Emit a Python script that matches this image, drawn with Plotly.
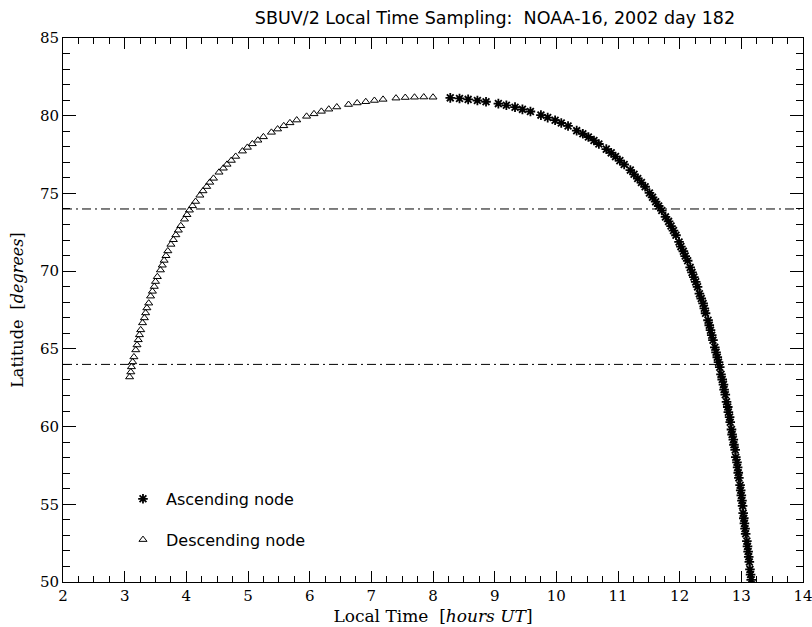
import plotly.graph_objects as go

# Ascending node samples (asterisks): local time [h], latitude [deg]
asc_time = [8.28, 8.43, 8.57, 8.72, 8.86,
            9.06, 9.19, 9.33, 9.45, 9.58,
            9.75, 9.86, 9.98, 10.08, 10.19,
            10.33, 10.43, 10.52, 10.61, 10.69,
            10.81, 10.89, 10.96, 11.03, 11.10,
            11.20, 11.26, 11.32, 11.38, 11.44,
            11.51, 11.56, 11.61, 11.66, 11.71,
            11.77, 11.82, 11.86, 11.90, 11.94,
            11.99, 12.02, 12.06, 12.09, 12.13,
            12.17, 12.20, 12.23, 12.26, 12.29,
            12.32, 12.35, 12.38, 12.40, 12.42,
            12.46, 12.48, 12.50, 12.52, 12.54,
            12.57, 12.59, 12.61, 12.63, 12.65,
            12.67, 12.69, 12.71, 12.72, 12.74,
            12.76, 12.78, 12.79, 12.81, 12.82,
            12.84, 12.85, 12.87, 12.88, 12.90,
            12.91, 12.93, 12.94, 12.95, 12.96,
            12.98, 12.99, 13.00, 13.01, 13.02,
            13.03, 13.04, 13.05, 13.06, 13.07,
            13.09, 13.10, 13.11, 13.12, 13.13,
            13.14, 13.15, 13.16, 13.17]
asc_lat = [81.15, 81.11, 81.05, 80.98, 80.90,
           80.78, 80.67, 80.55, 80.41, 80.27,
           80.04, 79.88, 79.71, 79.53, 79.34,
           79.04, 78.84, 78.63, 78.41, 78.18,
           77.85, 77.61, 77.37, 77.11, 76.86,
           76.50, 76.23, 75.96, 75.70, 75.43,
           75.03, 74.75, 74.47, 74.19, 73.90,
           73.49, 73.20, 72.90, 72.61, 72.31,
           71.88, 71.58, 71.28, 70.97, 70.67,
           70.24, 69.92, 69.62, 69.31, 68.99,
           68.55, 68.24, 67.92, 67.61, 67.29,
           66.84, 66.52, 66.20, 65.88, 65.56,
           65.10, 64.78, 64.46, 64.14, 63.82,
           63.36, 63.03, 62.70, 62.38, 62.05,
           61.59, 61.26, 60.93, 60.61, 60.28,
           59.81, 59.49, 59.16, 58.83, 58.50,
           58.03, 57.70, 57.37, 57.03, 56.70,
           56.23, 55.90, 55.57, 55.24, 54.90,
           54.43, 54.10, 53.77, 53.43, 53.10,
           52.63, 52.29, 51.96, 51.62, 51.29,
           50.81, 50.48, 50.14, 49.81]

# Descending node samples (triangles): local time [h], latitude [deg]
desc_time = [8.00, 7.85, 7.70, 7.55, 7.40,
             7.19, 7.05, 6.91, 6.77, 6.63,
             6.44, 6.31, 6.19, 6.07, 5.95,
             5.79, 5.68, 5.58, 5.48, 5.38,
             5.25, 5.16, 5.07, 4.99, 4.91,
             4.80, 4.73, 4.66, 4.60, 4.53,
             4.44, 4.38, 4.33, 4.27, 4.22,
             4.15, 4.10, 4.05, 4.01, 3.97,
             3.91, 3.87, 3.83, 3.79, 3.75,
             3.70, 3.67, 3.64, 3.61, 3.58,
             3.53, 3.50, 3.48, 3.45, 3.42,
             3.39, 3.36, 3.34, 3.32, 3.29,
             3.26, 3.24, 3.22, 3.20, 3.18,
             3.15, 3.13, 3.11, 3.10, 3.08]
desc_lat = [81.19, 81.20, 81.19, 81.17, 81.13,
            81.05, 80.98, 80.90, 80.82, 80.72,
            80.56, 80.42, 80.28, 80.12, 79.96,
            79.72, 79.54, 79.35, 79.14, 78.93,
            78.64, 78.42, 78.19, 77.96, 77.72,
            77.38, 77.12, 76.87, 76.62, 76.36,
            75.97, 75.71, 75.44, 75.16, 74.88,
            74.48, 74.20, 73.92, 73.63, 73.34,
            72.92, 72.63, 72.33, 72.02, 71.72,
            71.30, 70.99, 70.69, 70.38, 70.07,
            69.64, 69.33, 69.01, 68.70, 68.39,
            67.94, 67.63, 67.31, 66.99, 66.67,
            66.22, 65.90, 65.58, 65.25, 64.93,
            64.48, 64.16, 63.84, 63.51, 63.19]

ref_lats = [74, 64]
x_ticks = list(range(2, 15))
y_ticks = list(range(50, 90, 5))

TITLE = "SBUV/2 Local Time Sampling:  NOAA-16, 2002 day 182"
SERIF = "DejaVu Serif, Liberation Serif, serif"
SANS = "DejaVu Sans, Liberation Sans, sans-serif"

fig = go.Figure()
fig.add_trace(go.Scatter(
    x=asc_time, y=asc_lat, mode="markers", name="Ascending node",
    legendgroup="a",
    marker=dict(symbol="asterisk", size=8, color="black",
                line=dict(color="black", width=1.8))))
fig.add_trace(go.Scatter(
    x=desc_time, y=desc_lat, mode="markers", name="Descending node",
    legendgroup="d",
    marker=dict(symbol="triangle-up-open", size=7, color="black",
                line=dict(color="black", width=1))))

for y in ref_lats:
    fig.add_hline(y=y, line=dict(color="black", width=1, dash="9px,4px,2px,4px"))

axis_common = dict(
    showline=True, linecolor="black", linewidth=1, mirror="allticks",
    ticks="inside", tickcolor="black", tickwidth=1,
    showgrid=False, zeroline=False, automargin=False,
    ticklabeloverflow="allow",
    tickfont=dict(family=SERIF, size=15, color="black"),
)

fig.update_xaxes(
    range=[2, 14], tickvals=x_ticks, ticklen=11,
    minor=dict(dtick=0.25, ticks="inside", ticklen=6, tickcolor="black", showgrid=False),
    title=dict(text="Local Time  [<i>hours UT</i>]", standoff=6,
               font=dict(family=SERIF, size=17, color="black")),
    **axis_common)
fig.update_yaxes(
    range=[50, 85], tickvals=y_ticks, ticklen=13,
    minor=dict(dtick=1, ticks="inside", ticklen=7, tickcolor="black", showgrid=False),
    title=dict(text="Latitude  [<i>degrees</i>]", standoff=12,
               font=dict(family=SERIF, size=16, color="black")),
    **axis_common)

fig.update_layout(
    width=812, height=627,
    margin=dict(l=63, r=9, t=38, b=45),
    paper_bgcolor="white", plot_bgcolor="white",
    title=dict(text=TITLE, x=495 / 812, xanchor="center",
               y=1 - 18 / 627, yanchor="middle",
               font=dict(family=SANS, size=17.5, color="black")),
    showlegend=True,
    legend=dict(x=0.077, y=0.184, xanchor="left", yanchor="top",
                bgcolor="rgba(0,0,0,0)", borderwidth=0,
                itemwidth=36, tracegroupgap=17,
                font=dict(family=SANS, size=16, color="black")),
)

fig.write_html("out.html")
